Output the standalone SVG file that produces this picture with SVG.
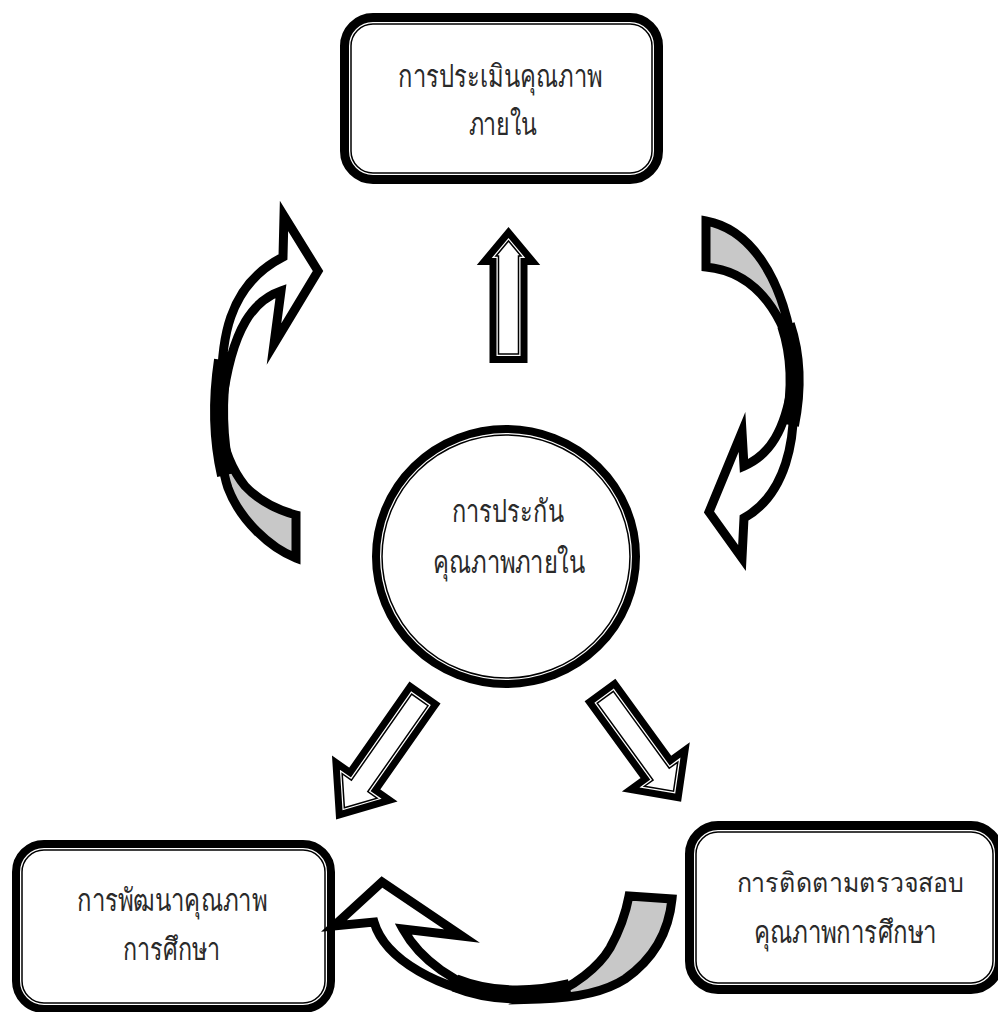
<svg xmlns="http://www.w3.org/2000/svg" xmlns:xlink="http://www.w3.org/1999/xlink" width="998" height="1012" viewBox="0 0 998 1012">
<style>
.bk{fill:none;stroke:#000;stroke-width:22}
.gp{fill:none;stroke:#fff;stroke-width:4}
.tn{fill:#fff;stroke:#000;stroke-width:1.5}
.abk{fill:none;stroke:#000;stroke-width:18;stroke-linejoin:miter;stroke-miterlimit:10}
.agp{fill:none;stroke:#fff;stroke-width:4;stroke-linejoin:miter;stroke-miterlimit:10}
.atn{fill:#fff;stroke:#000;stroke-width:1.5;stroke-linejoin:miter;stroke-miterlimit:10}
.rw{fill:#fff;stroke:#000;stroke-width:9;stroke-linejoin:miter;stroke-miterlimit:10}
.rg{fill:#c8c8c8;stroke:#000;stroke-width:9;stroke-linejoin:miter;stroke-miterlimit:10}
.bd{fill:none;stroke:#000;stroke-width:18}
.lb{font-family:"Noto Sans","DejaVu Sans",sans-serif;font-size:31px;fill:#2a2a2a;text-anchor:middle}
</style>
<defs>
<rect id="rTop" x="351" y="24" width="301" height="149" rx="22"/>
<rect id="rLeft" x="22" y="850" width="303" height="153" rx="22"/>
<rect id="rRight" x="696" y="832" width="297" height="151" rx="22"/>
<ellipse id="eC" cx="506" cy="556.5" rx="124" ry="121.5"/>
<path id="aUp" d="M498.5,354 L498.5,256 L496,256 L508.5,241 L521,256 L518.5,256 L518.5,354 Z"/>
<path id="aDL" d="M9,-10 L114,-10 L114,-21.3 L140.6,0 L114,21.3 L114,10 L9,10 Z" transform="translate(425,692.5) rotate(125)"/>
<path id="aDR" d="M9,-10 L104,-10 L104,-20.6 L125.1,0 L104,20.6 L104,10 L9,10 Z" transform="translate(600,690) rotate(54)"/>
</defs>
<g id="node-top">
<use xlink:href="#rTop" class="bk"/><use xlink:href="#rTop" class="gp"/><use xlink:href="#rTop" class="tn"/>
<text class="lb" x="500" y="87" textLength="204" lengthAdjust="spacingAndGlyphs">การประเมินคุณภาพ</text>
<text class="lb" x="502.5" y="135" textLength="68" lengthAdjust="spacingAndGlyphs">ภายใน</text>
</g>
<g id="node-center">
<use xlink:href="#eC" class="bk" style="stroke-width:20"/><use xlink:href="#eC" class="gp"/><use xlink:href="#eC" class="tn"/>
<text class="lb" x="507.5" y="522" textLength="112" lengthAdjust="spacingAndGlyphs">การประกัน</text>
<text class="lb" x="509" y="573" textLength="152" lengthAdjust="spacingAndGlyphs">คุณภาพภายใน</text>
</g>
<g id="node-left">
<use xlink:href="#rLeft" class="bk" style="stroke-width:20"/><use xlink:href="#rLeft" class="gp"/><use xlink:href="#rLeft" class="tn"/>
<text class="lb" x="172" y="911" textLength="190" lengthAdjust="spacingAndGlyphs">การพัฒนาคุณภาพ</text>
<text class="lb" x="171.5" y="960" textLength="97" lengthAdjust="spacingAndGlyphs">การศึกษา</text>
</g>
<g id="node-right">
<use xlink:href="#rRight" class="bk"/><use xlink:href="#rRight" class="gp"/><use xlink:href="#rRight" class="tn"/>
<text class="lb" x="850" y="892" textLength="227" lengthAdjust="spacingAndGlyphs" style="font-size:27px">การติดตามตรวจสอบ</text>
<text class="lb" x="845" y="943" textLength="183" lengthAdjust="spacingAndGlyphs">คุณภาพการศึกษา</text>
</g>
<g id="connectors">
<g id="arrow-up">
<use xlink:href="#aUp" class="abk"/><use xlink:href="#aUp" class="agp"/><use xlink:href="#aUp" class="atn"/>
</g>
<g id="arrow-down-left">
<use xlink:href="#aDL" class="abk"/><use xlink:href="#aDL" class="agp"/><use xlink:href="#aDL" class="atn"/>
</g>
<g id="arrow-down-right">
<use xlink:href="#aDR" class="abk"/><use xlink:href="#aDR" class="agp"/><use xlink:href="#aDR" class="atn"/>
</g>
<g id="curve-left">
<path class="rg" d="M296,515 L296,558 C270,548 240,520 228,488 C222,470 220,450 220,425 C224,450 232,470 245,486 C260,502 278,510 296,515 Z"/>
<path class="rw" d="M222,405 C219,340 228,285 283,257 L284,216 L318,271 L274,344 L281,291 C255,300 232,325 222,405 Z"/>
<path class="bd" d="M223,360 C217,400 218,440 226,475"/>
</g>
<g id="curve-right">
<path class="rg" d="M706,221 C745,228 785,270 795,365 C785,320 760,272 706,267 Z"/>
<path class="rw" d="M792,385 C798,440 785,495 744,518 L742,558 L709,512 L742,432 L744,466 C770,455 785,430 792,385 Z"/>
<path class="bd" d="M786,325 C796,355 797,390 790,425"/>
</g>
<g id="curve-bottom">
<path class="rg" d="M629,896 L672,899 C669,930 655,958 625,979 C605,992 575,998 540,999 C575,988 600,965 610,948 C620,930 626,912 629,896 Z"/>
<path class="rw" d="M500,997 C455,985 420,960 403,929 L462,936 L382,882 L334,926 L374,922 C385,960 440,990 500,997 Z"/>
<path class="bd" d="M455,983 Q505,1003 570,988"/>
</g>
</g>
</svg>
